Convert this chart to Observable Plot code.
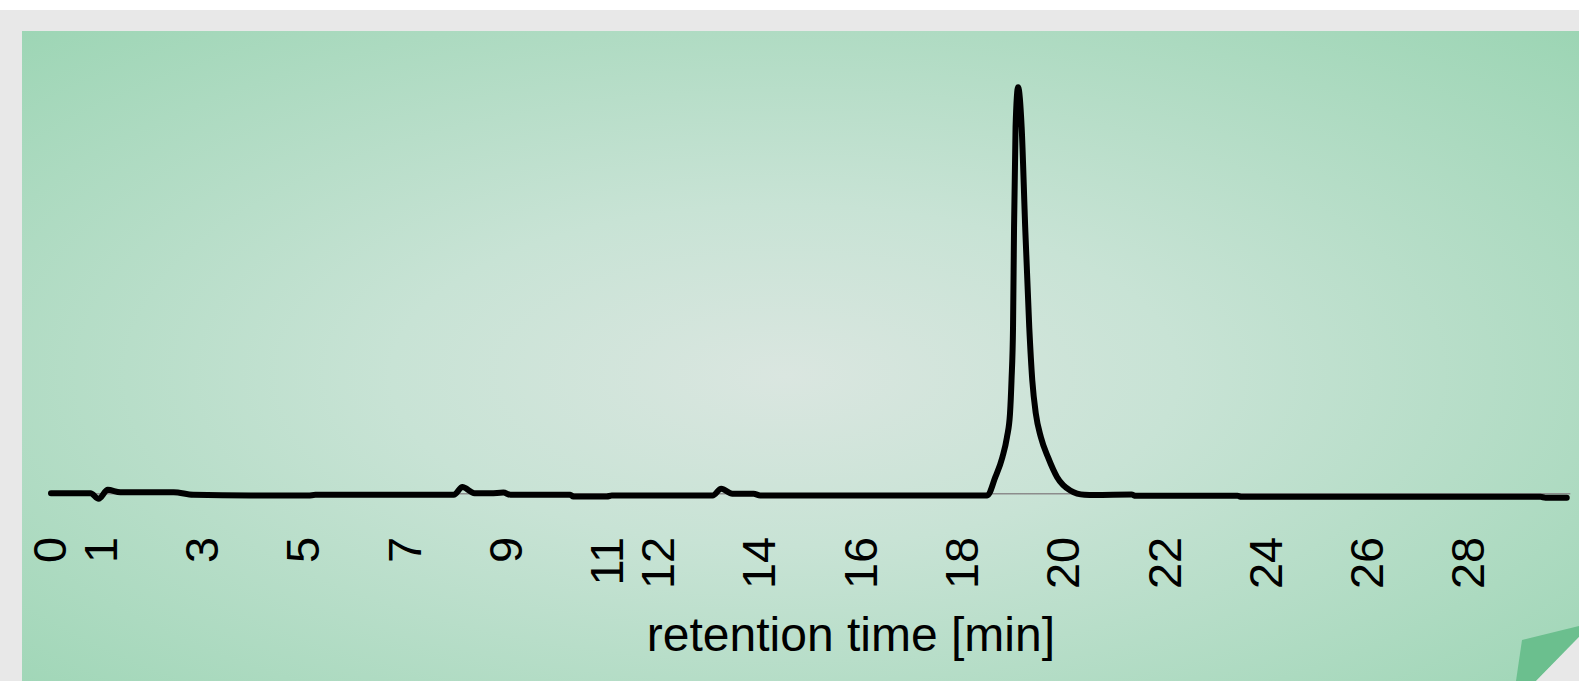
<!DOCTYPE html>
<html>
<head>
<meta charset="utf-8">
<script src="https://cdn.jsdelivr.net/npm/d3@7"></script>
<script src="https://cdn.jsdelivr.net/npm/@observablehq/plot@0.6"></script>
<style>
  html, body { margin: 0; padding: 0; width: 1579px; height: 681px; overflow: hidden; background: #ffffff; }
  #frame { position: absolute; left: 0; top: 10px; right: 0; bottom: 0; background: #e8e8e8; }
  #panel { position: absolute; left: 22px; top: 31px; right: 0; bottom: 0;
    background: radial-gradient(ellipse farthest-corner at 49% 53%, #dae6e0 0%, #c8e3d5 35%, #9cd5b4 100%); }
  #curl { position: absolute; left: 0; top: 0; width: 1579px; height: 681px; background: #6bbf8e;
    clip-path: polygon(1522px 640px, 1579px 626px, 1579px 637px, 1536px 681px, 1516px 681px); }
  #curlBack { position: absolute; left: 0; top: 0; width: 1579px; height: 681px; background: #e8e8e8;
    clip-path: polygon(1579px 637px, 1579px 681px, 1536px 681px); }
  #chart { position: absolute; left: 0; top: 0; }
</style>
</head>
<body>
<div id="frame"></div>
<div id="panel"></div>
<div id="curl"></div>
<div id="curlBack"></div>
<div id="chart"></div>
<script>
// retention time [min]
const time = [
  0, 0.78, 0.94, 1.12, 1.37, 2.42, 2.81, 3.94, 5.08, 5.22, 7.95, 8.12, 8.36, 8.68, 8.93, 9.07,
  10.25, 10.31, 10.97, 11.07, 13.06, 13.23, 13.45, 13.87, 14.0, 18.43,
  18.48, 18.64, 18.78, 18.87, 18.93, 18.96, 18.99, 19.01, 19.04, 19.09,
  19.16, 19.23, 19.31, 19.37, 19.44, 19.54, 19.68, 19.86, 20.12, 20.40, 20.6,
  21.33, 21.41, 23.42, 23.5, 29.4, 29.5, 29.92
];
// detector signal (relative, peak = 100)
const signal = [
  0.15, 0.15, -1.23, 0.98, 0.39, 0.39, -0.25, -0.42, -0.42, -0.25, -0.25, 1.67, 0.15, 0.15, 0.3, -0.25,
  -0.25, -0.66, -0.66, -0.42, -0.42, 1.23, 0, 0, -0.42, -0.42,
  -0.42, 4.08, 9.0, 13.9, 19.7, 27.9, 41, 65.6, 90.2, 100,
  90.2, 65.6, 41, 27.9, 19.7, 13.9, 9.0, 4.08, 0.81, -0.25, -0.3,
  -0.2, -0.5, -0.5, -0.75, -0.75, -0.95, -0.95
];
const xTicks = [0, 1, 3, 5, 7, 9, 11, 12, 14, 16, 18, 20, 22, 24, 26, 28];
const xLabel = "retention time [min]";
const baselineRange = [0, 30];

const data = time.map((t, i) => ({t, v: signal[i]}));

const chart = Plot.plot({
  width: 1579,
  height: 681,
  marginLeft: 50.5,
  marginRight: 8.7,
  marginTop: 86.7,
  marginBottom: 187.7,
  style: {background: "transparent", fontFamily: "'Liberation Sans', Arial, sans-serif", color: "#000"},
  x: {domain: [0, 30], axis: null},
  y: {domain: [0, 100], axis: null},
  marks: [
    Plot.ruleY([0], {x1: baselineRange[0], x2: baselineRange[1], stroke: "#8c8c8c", strokeWidth: 1.6}),
    Plot.line(data, {x: "t", y: "v", stroke: "#000", strokeWidth: 6, curve: "monotone-x",
      strokeLinejoin: "round", strokeLinecap: "round"}),
    Plot.text(xTicks, {x: d => d, text: d => String(d), frameAnchor: "bottom", rotate: -90,
      textAnchor: "end", dx: 15, dy: 43, fontSize: 47, fill: "#000"}),
    Plot.text([xLabel], {frameAnchor: "bottom", lineAnchor: "bottom", dx: 40, dy: 156.7,
      fontSize: 48, fill: "#000"})
  ]
});
document.getElementById("chart").appendChild(chart);
</script>
</body>
</html>
